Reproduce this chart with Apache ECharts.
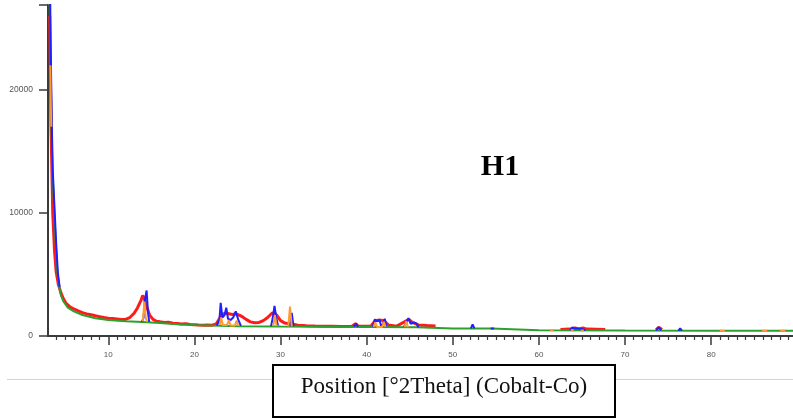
<!DOCTYPE html>
<html><head><meta charset="utf-8">
<script src="https://cdn.jsdelivr.net/npm/echarts@6/dist/echarts.min.js"></script>
<style>html,body{margin:0;padding:0;background:#fff}#c{width:793px;height:420px}</style>
</head><body><div id="c"></div>
<script>
// ---- data ----
const xMajorTicks = [10, 20, 30, 40, 50, 60, 70, 80];
const yTicks = [0, 10000, 20000];

const greenX = [3.15,3.25,3.4,3.5,3.7,3.9,4.1,4.3,4.5,4.8,5.3,6.0,7.0,8.5,10,12,14,16,18,20,22,25,30,35,40,45.8,46.0,50,54.5,54.7,60,70,80,89.5];
const greenY = [30000,24000,17500,13700,10500,7500,5100,4000,3300,2800,2300,2000,1700,1450,1300,1200,1130,1050,960,900,850,800,770,750,740,720,620,610,600,480,460,440,430,420];

const redX = [3.2,3.35,3.55,3.75,3.95,4.2,4.5,4.8,5.1,5.5,6.0,6.5,7.0,7.5,8.0,8.5,9.0,9.5,10,10.5,11,11.5,12,12.5,13.0,13.4,13.8,14.0,14.2,14.5,14.8,15.2,15.6,16.0,16.5,17,17.5,18,18.5,19,19.5,20,20.5,21,21.5,22,22.5,22.9,23.2,23.6,24.0,24.4,24.8,25.2,25.6,26.0,26.5,27.0,27.5,28.0,28.5,29.0,29.3,29.6,30.0,30.5,31.0,31.5,32,33,34,35,36,37,38.3,38.7,39.0,40.5,41,41.5,42,42.5,43.5,44.5,44.9,45.3,46,47,48,48.5,62.5,63.5,64.2,64.7,65.1,65.6,67.7,68,73.6,73.9,74.3];
const redY = [26000,17000,10000,7000,5200,4200,3500,3000,2650,2400,2200,2050,1900,1800,1720,1640,1570,1500,1450,1420,1380,1340,1350,1500,1850,2300,2900,3300,3000,2300,1700,1350,1200,1150,1100,1120,1040,1020,980,1000,940,920,890,870,900,880,950,1400,1750,1850,1800,1750,1800,1700,1550,1350,1150,1080,1100,1250,1500,1850,1900,1650,1250,1050,1000,950,870,830,810,800,790,780,800,1000,800,820,1250,1300,1250,900,800,1200,1350,1100,900,850,820,null,520,560,650,560,650,560,520,null,520,700,520];

const blueX = [3.22,3.3,3.45,3.55,3.75,3.95,4.15,4.35,4.4, 13.9,14.1,14.25,14.45,14.6,14.75,14.8, 22.6,22.9,23.05,23.25,23.5,23.7,23.9,24.2,24.5,24.8,25.1,25.4,25.5, 28.9,29.1,29.3,29.5,29.7,29.8, 31.1,31.3,31.5,31.6, 38.5,38.8,39.0,39.1, 40.7,40.95,41.2,41.5,41.7,41.9,42.1,42.3,42.4, 44.3,44.6,44.85,45.1,45.5,45.8,46.0,46.1, 52.1,52.3,52.5,52.6, 54.4,54.6,54.8,54.9, 63.6,63.9,64.2,64.9,65.1,65.4,65.5, 73.6,73.9,74.2,74.3, 76.2,76.4,76.6];
const blueY = [30000,24000,17000,13500,10500,7500,5100,4000,null, 1150,1500,2900,3700,2000,1150,null, 850,1300,2700,1500,1700,2300,1400,1300,1500,2000,1300,820,null, 800,1500,2450,1500,850,null, 800,1870,800,null, 760,1000,760,null, 740,1350,1200,1300,740,1000,1400,760,null, 720,1100,1450,1000,1100,1000,700,null, 620,950,620,null, 600,720,600,null, 480,700,600,600,720,480,null, 450,700,450,null, 440,620,440];

const orangeX = [3.28,3.32,3.38,3.4, 14.0,14.2,14.35,14.5,14.6, 22.95,23.1,23.3,23.8,24.0,24.2,24.7,24.9,25.1,25.2, 29.15,29.35,29.55,29.6, 30.9,31.1,31.3,31.4, 40.8,41.0,41.2,41.8,42.0,42.2,42.3, 44.4,44.6,44.8,44.9, 61.3,61.7,61.8, 63.7,64.0,64.1, 64.9,65.2,65.3, 81.0,81.6,81.7, 85.9,86.5,86.6, 88.0,88.6];
const orangeY = [22000,19000,17000,null, 1200,2800,1500,1150,null, 900,1500,900,900,1300,850,850,1250,830,null, 800,1700,800,null, 780,2400,780,null, 730,1100,740,740,1150,740,null, 710,1200,710,null, 465,465,null, 458,458,null, 455,455,null, 432,432,null, 426,426,null, 423,423];

// ---- build ----
function pairs(xs, ys){ return xs.map((x,i)=>[x, ys[i]]); }
const minorTicks = [];
for (let v = 4; v <= 89; v++) if (v % 10 !== 0) minorTicks.push(v);

const chart = echarts.init(document.getElementById('c'), null, {renderer:'canvas'});
const axisColor = '#3a3a3a';
const lbl = {fontSize: 8, color: '#555', fontFamily: 'Liberation Sans, Arial, sans-serif'};
const lineSeries = (name, color, xs, ys, z, w) => ({
  name, type:'line', data: pairs(xs, ys), xAxisIndex:0, yAxisIndex:0,
  showSymbol:false, symbol:'none', connectNulls:false, clip:true, animation:false, z,
  lineStyle:{color, width:w}, emphasis:{disabled:true}
});

chart.setOption({
  backgroundColor:'#fff',
  animation:false,
  grid:{left:48, right:0, top:5, bottom:84, containLabel:false},
  xAxis:[{
    type:'value', min:3, max:89.5, position:'bottom',
    axisLine:{show:true, onZero:false, lineStyle:{color:axisColor, width:2}},
    axisTick:{show:true, length:9, customValues:xMajorTicks, lineStyle:{color:axisColor, width:1.5}},
    axisLabel:{show:true, margin:15, customValues:xMajorTicks, formatter:v=>String(v), ...lbl},
    splitLine:{show:false}
  },{
    type:'value', min:3, max:89.5, position:'bottom', gridIndex:0,
    axisLine:{show:false, onZero:false},
    axisTick:{show:true, length:4, customValues:minorTicks, lineStyle:{color:axisColor, width:1.2}},
    axisLabel:{show:false},
    splitLine:{show:false}
  }],
  yAxis:{
    type:'value', min:0, max:26900, interval:10000,
    axisLine:{show:true, onZero:false, lineStyle:{color:axisColor, width:2}},
    axisTick:{show:true, length:9, lineStyle:{color:axisColor, width:1.5}},
    axisLabel:{show:true, margin:15, customValues:yTicks, formatter:v=>String(v), ...lbl, fontSize:8.5},
    splitLine:{show:false}
  },
  series:[
    lineSeries('red', '#ff1a1a', redX, redY, 2, 3),
    lineSeries('green', '#2ca02c', greenX, greenY, 3, 2),
    lineSeries('blue', '#1f1fff', blueX, blueY, 4, 2),
    lineSeries('orange', '#ff9933', orangeX, orangeY, 5, 2)
  ],
  graphic:[
    {type:'line', z:1, shape:{x1:7, y1:379.5, x2:793, y2:379.5}, style:{stroke:'#d4d4d4', lineWidth:1}},
    {type:'rect', z:10, shape:{x:273, y:365, width:342, height:52}, style:{fill:'#fff', stroke:'#000', lineWidth:2}},
    {type:'text', z:11, x:444, y:387, style:{text:'Position [°2Theta] (Cobalt-Co)', font:'23px "Liberation Serif", "Times New Roman", serif', fill:'#111', align:'center', verticalAlign:'middle'}},
    {type:'text', z:11, x:500, y:167, style:{text:'H1', font:'bold 30px "Liberation Serif", "Times New Roman", serif', fill:'#000', align:'center', verticalAlign:'middle'}}
  ]
});
</script></body></html>
